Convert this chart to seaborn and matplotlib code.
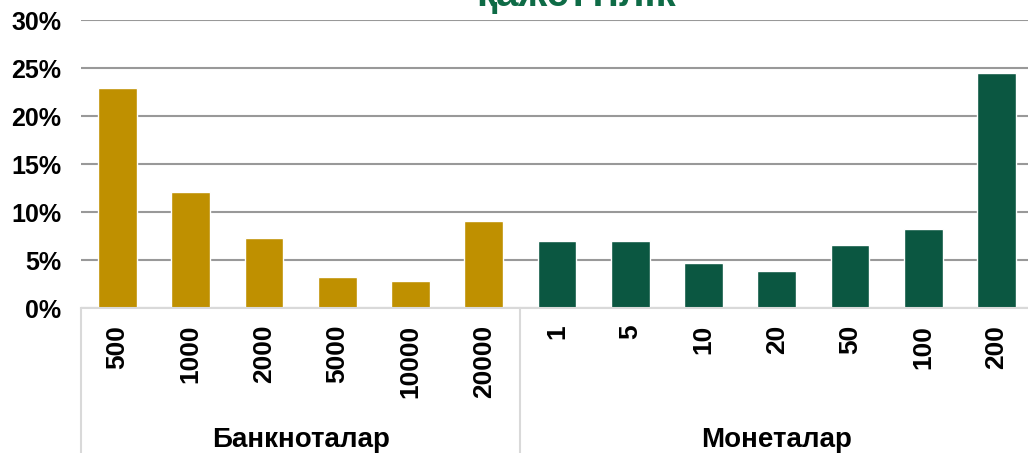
import matplotlib
matplotlib.use("Agg")
import matplotlib.pyplot as plt
import seaborn as sns
import pandas as pd

# denominations and shares
banknotes = ['500', '1000', '2000', '5000', '10000', '20000']
banknote_vals = [22.9, 12.1, 7.3, 3.2, 2.8, 9.1]
coins = ['1', '5', '10', '20', '50', '100', '200']
coin_vals = [7.0, 7.0, 4.7, 3.9, 6.6, 8.2, 24.5]
groups = ['Банкноталар', 'Монеталар']
title_text = 'қажеттілік'

gold = '#BF9000'
green = '#0B5741'

df = pd.DataFrame({
    'label': banknotes + coins,
    'value': banknote_vals + coin_vals,
    'group': [groups[0]] * len(banknotes) + [groups[1]] * len(coins),
})

sns.set_style('white')
plt.rcParams['font.family'] = ['Liberation Sans', 'DejaVu Sans']
plt.rcParams['text.color'] = 'black'
plt.rcParams['xtick.color'] = 'black'
plt.rcParams['ytick.color'] = 'black'

W, H = 1028, 453
fig = plt.figure(figsize=(W / 100, H / 100), dpi=100)
# axes in pixel coords: left 81, right 1033 (beyond the edge), 0% at y=308, 30% at y=20
x0, x1, yb, yt = 81, 1033, 308, 20
ax = fig.add_axes([x0 / W, 1 - yb / H, (x1 - x0) / W, (yb - yt) / H])

sns.barplot(data=df, x='label', y='value', hue='group',
            palette=[gold, green], width=0.53, dodge=False,
            legend=False, ax=ax, saturation=1)

ax.set_xlim(-0.5, len(df) - 0.5)
ax.set_ylim(0, 30)
ax.set_yticks(range(0, 31, 5))
ax.set_yticklabels([f'{v}%' for v in range(0, 31, 5)], fontsize=18, fontweight='bold')
ax.set_xticks(range(len(df)))
ax.set_xticklabels(df['label'], rotation=90, fontsize=19, fontweight='bold', va='top')
ax.tick_params(axis='x', length=0, pad=12)
ax.tick_params(axis='y', length=0, pad=14)
ax.yaxis.grid(True, color='#999999', linewidth=1.5)
ax.set_axisbelow(True)
ax.set_xlabel('')
ax.set_ylabel('')
for s in ['top', 'right', 'left']:
    ax.spines[s].set_visible(False)
ax.spines['bottom'].set_color('#d9d9d9')
ax.spines['bottom'].set_linewidth(1.5)

# group separators and group labels below the axis
trans = ax.get_xaxis_transform()
for xpos in [-0.5, len(banknotes) - 0.5]:
    ax.plot([xpos, xpos], [0, -0.6], transform=trans, color='#d9d9d9',
            linewidth=1.5, clip_on=False)
ax.text((len(banknotes) - 1) / 2, -0.46, groups[0], transform=trans,
        ha='center', va='center', fontsize=20, fontweight='bold')
ax.text(len(banknotes) + (len(coins) - 1) / 2, -0.46, groups[1], transform=trans,
        ha='center', va='center', fontsize=20, fontweight='bold')

# title, mostly cut off at the top of the picture
fig.text(576 / W, 1 - 6 / H, title_text, ha='center', va='baseline',
         fontsize=29, fontweight='bold', color='#0E6B46')

fig.savefig('out.png', dpi=100)
